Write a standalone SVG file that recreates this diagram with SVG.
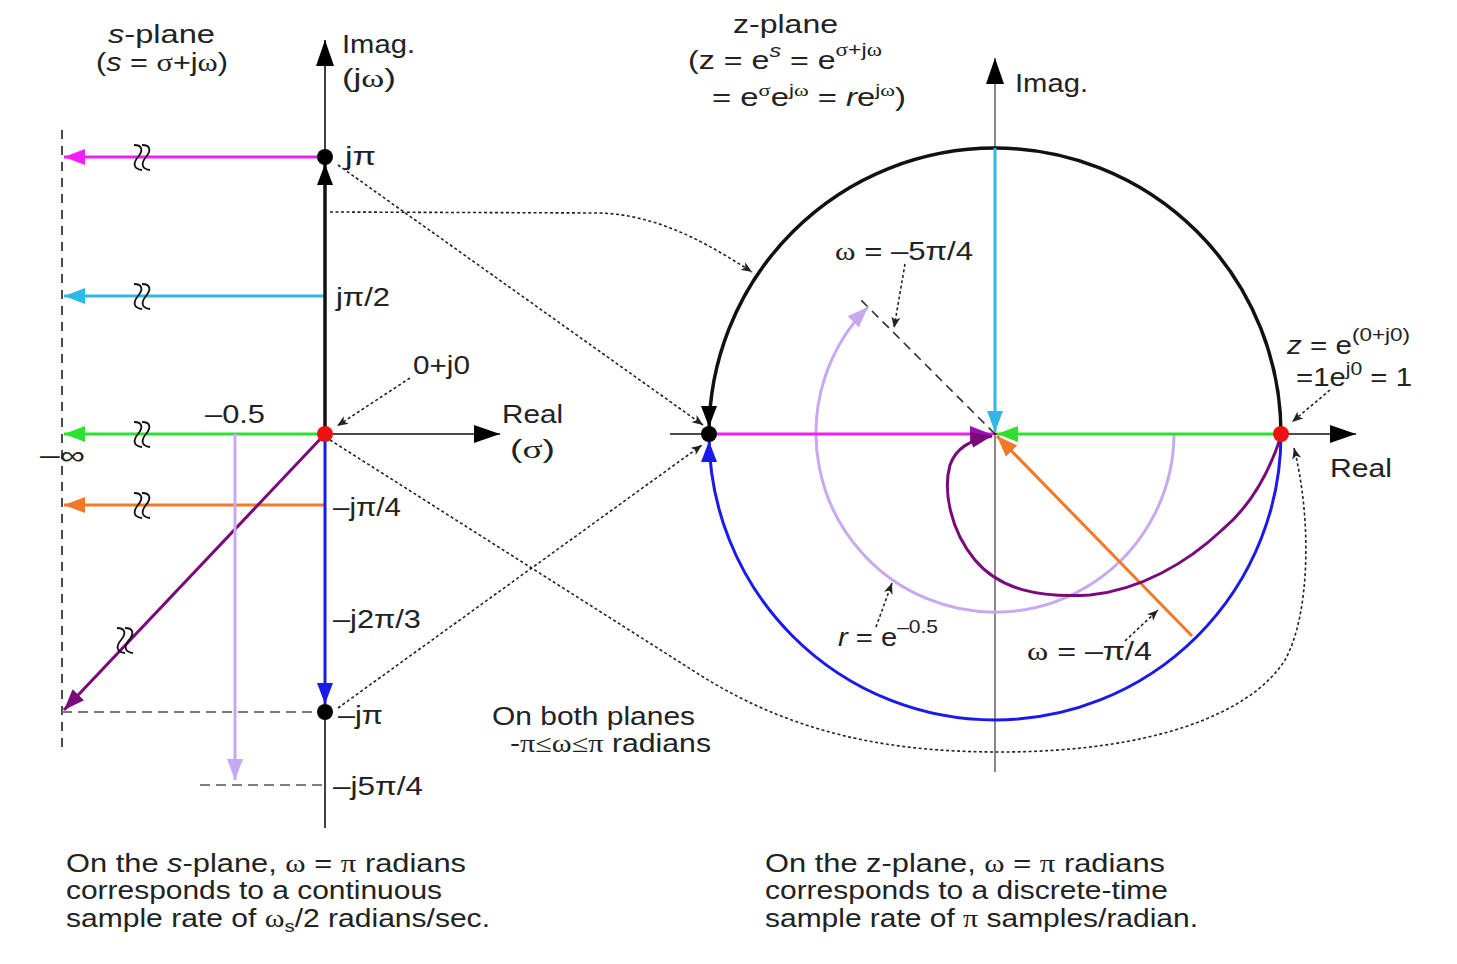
<svg xmlns="http://www.w3.org/2000/svg" width="1457" height="964" viewBox="0 0 1457 964">
<style>
text{font-family:"Liberation Sans",Arial,sans-serif;fill:#222;font-size:25px}
.gr{font-family:"Liberation Serif","Times New Roman",serif}
.it{font-style:italic}
.dot{fill:none;stroke:#222;stroke-width:1.6;stroke-dasharray:3 2.5}
.brk{fill:none;stroke:#111;stroke-width:1.8}
</style>
<defs>
<marker id="axb" markerUnits="userSpaceOnUse" markerWidth="30" markerHeight="20" refX="26" refY="9" orient="auto"><path d="M0,0 L26,9 L0,18 z" fill="#000"/></marker>
<marker id="ak" markerUnits="userSpaceOnUse" markerWidth="30" markerHeight="18" refX="28" refY="8" orient="auto"><path d="M0,0 L21,8 L0,16 z" fill="#000"/></marker>
<marker id="am" markerUnits="userSpaceOnUse" markerWidth="30" markerHeight="18" refX="21" refY="8" orient="auto"><path d="M0,0 L21,8 L0,16 z" fill="#f020f0"/></marker>
<marker id="amz" markerUnits="userSpaceOnUse" markerWidth="30" markerHeight="18" refX="23" refY="8" orient="auto"><path d="M0,0 L21,8 L0,16 z" fill="#9a10b0"/></marker>
<marker id="ac" markerUnits="userSpaceOnUse" markerWidth="30" markerHeight="18" refX="21" refY="8" orient="auto"><path d="M0,0 L21,8 L0,16 z" fill="#30b8e8"/></marker>
<marker id="ag" markerUnits="userSpaceOnUse" markerWidth="30" markerHeight="18" refX="21" refY="8" orient="auto"><path d="M0,0 L21,8 L0,16 z" fill="#30e030"/></marker>
<marker id="ao" markerUnits="userSpaceOnUse" markerWidth="30" markerHeight="18" refX="21" refY="8" orient="auto"><path d="M0,0 L21,8 L0,16 z" fill="#f07828"/></marker>
<marker id="ap" markerUnits="userSpaceOnUse" markerWidth="30" markerHeight="18" refX="21" refY="8" orient="auto"><path d="M0,0 L21,8 L0,16 z" fill="#7a0a7a"/></marker>
<marker id="al" markerUnits="userSpaceOnUse" markerWidth="30" markerHeight="18" refX="21" refY="8" orient="auto"><path d="M0,0 L21,8 L0,16 z" fill="#c8a8f0"/></marker>
<marker id="ab" markerUnits="userSpaceOnUse" markerWidth="30" markerHeight="18" refX="21" refY="8" orient="auto"><path d="M0,0 L21,8 L0,16 z" fill="#1a1aee"/></marker>
<marker id="abz" markerUnits="userSpaceOnUse" markerWidth="30" markerHeight="18" refX="28" refY="8" orient="auto"><path d="M0,0 L21,8 L0,16 z" fill="#1a1aee"/></marker>
<marker id="ad" markerUnits="userSpaceOnUse" markerWidth="14" markerHeight="10" refX="11" refY="4.5" orient="auto"><path d="M0,0 L11,4.5 L0,9 L3,4.5 z" fill="#222"/></marker>
</defs>
<rect width="1457" height="964" fill="#fff"/>

<g id="s-plane">
<line x1="62" y1="130" x2="62" y2="752" stroke="#111" stroke-width="1.5" stroke-dasharray="9 7"/>
<line x1="62" y1="712" x2="318" y2="712" stroke="#777" stroke-width="2" stroke-dasharray="10 6"/>
<line x1="200" y1="785" x2="322" y2="785" stroke="#555" stroke-width="1.6" stroke-dasharray="10 6"/>
<line x1="325" y1="828" x2="325" y2="40" stroke="#111" stroke-width="1.6" marker-end="url(#axb)"/>
<line x1="325" y1="434" x2="500" y2="434" stroke="#111" stroke-width="1.6" marker-end="url(#axb)"/>
<line x1="325" y1="157" x2="64" y2="157" stroke="#f020f0" stroke-width="3" marker-end="url(#am)"/>
<line x1="325" y1="296" x2="64" y2="296" stroke="#30b8e8" stroke-width="3" marker-end="url(#ac)"/>
<line x1="325" y1="434" x2="64" y2="434" stroke="#30e030" stroke-width="3" marker-end="url(#ag)"/>
<line x1="325" y1="505" x2="64" y2="505" stroke="#f07828" stroke-width="3" marker-end="url(#ao)"/>
<line x1="325" y1="434" x2="64" y2="710" stroke="#7a0a7a" stroke-width="3" marker-end="url(#ap)"/>
<line x1="235" y1="434" x2="235" y2="780" stroke="#c8a8f0" stroke-width="3" marker-end="url(#al)"/>
<line x1="325" y1="434" x2="325" y2="157" stroke="#111" stroke-width="3.5" marker-end="url(#ak)"/>
<line x1="325" y1="434" x2="325" y2="704" stroke="#1a1aee" stroke-width="3" marker-end="url(#ab)"/>
<path class="brk" d="M134,145 C143,145 143,151 138,157 C133,163 133,169 142,170 M142,145 C151,145 151,151 146,157 C141,163 141,169 150,170"/>
<path class="brk" d="M134,284 C143,284 143,290 138,296 C133,302 133,308 142,309 M142,284 C151,284 151,290 146,296 C141,302 141,308 150,309"/>
<path class="brk" d="M134,422 C143,422 143,428 138,434 C133,440 133,446 142,447 M142,422 C151,422 151,428 146,434 C141,440 141,446 150,447"/>
<path class="brk" d="M134,493 C143,493 143,499 138,505 C133,511 133,517 142,518 M142,493 C151,493 151,499 146,505 C141,511 141,517 150,518"/>
<path class="brk" d="M117,628 C126,628 126,634 121,640 C116,646 116,652 125,653 M125,628 C134,628 134,634 129,640 C124,646 124,652 133,653"/>
<circle cx="325" cy="157" r="8" fill="#000"/>
<circle cx="325" cy="712" r="8" fill="#000"/>
<circle cx="325" cy="434" r="8" fill="#ee1111"/>
<text x="108" y="43" font-size="27" textLength="107" lengthAdjust="spacingAndGlyphs"><tspan class="it">s</tspan>-plane</text>
<text x="96" y="71" font-size="23" textLength="132" lengthAdjust="spacingAndGlyphs">(<tspan class="it">s</tspan> = <tspan class="gr">σ</tspan>+j<tspan class="gr">ω</tspan>)</text>
<text x="342" y="53" textLength="73" lengthAdjust="spacingAndGlyphs">Imag.</text>
<text x="342" y="87" textLength="54" lengthAdjust="spacingAndGlyphs">(j<tspan class="gr">ω</tspan>)</text>
<text x="345" y="165" textLength="31" lengthAdjust="spacingAndGlyphs">jπ</text>
<text x="336" y="306" textLength="54" lengthAdjust="spacingAndGlyphs">jπ/2</text>
<text x="413" y="374" textLength="57" lengthAdjust="spacingAndGlyphs">0+j0</text>
<text x="205" y="423" textLength="60" lengthAdjust="spacingAndGlyphs">–0.5</text>
<text x="502" y="423" textLength="61" lengthAdjust="spacingAndGlyphs">Real</text>
<text x="510" y="458" textLength="45" lengthAdjust="spacingAndGlyphs">(<tspan class="gr">σ</tspan>)</text>
<text x="40" y="464" font-size="28" textLength="45" lengthAdjust="spacingAndGlyphs">–∞</text>
<text x="333" y="516" textLength="68" lengthAdjust="spacingAndGlyphs">–jπ/4</text>
<text x="333" y="628" textLength="88" lengthAdjust="spacingAndGlyphs">–j2π/3</text>
<text x="338" y="724" textLength="45" lengthAdjust="spacingAndGlyphs">–jπ</text>
<text x="333" y="795" textLength="90" lengthAdjust="spacingAndGlyphs">–j5π/4</text>
</g>

<g id="z-plane">
<line x1="995" y1="772" x2="995" y2="58" stroke="#888" stroke-width="2" marker-end="url(#axb)"/>
<line x1="670" y1="434" x2="1356" y2="434" stroke="#111" stroke-width="1.6" marker-end="url(#axb)"/>
<path d="M1281,434 A286,286 0 0 0 709,434" fill="none" stroke="#111" stroke-width="3.5" marker-end="url(#ak)"/>
<path d="M1281,434 A286,286 0 0 1 709,434" fill="none" stroke="#1a1aee" stroke-width="3" marker-end="url(#abz)"/>
<line x1="995" y1="148" x2="995" y2="432" stroke="#30b8e8" stroke-width="3" marker-end="url(#ac)"/>
<line x1="995" y1="434" x2="860" y2="299" stroke="#333" stroke-width="1.6" stroke-dasharray="9 6"/>
<path d="M1174,434 A179,179 0 1 1 868,307" fill="none" stroke="#c8a8f0" stroke-width="3" marker-end="url(#al)"/>
<line x1="709" y1="434" x2="993" y2="434" stroke="#f020f0" stroke-width="3" marker-end="url(#amz)"/>
<line x1="1281" y1="434" x2="997" y2="434" stroke="#30e030" stroke-width="3" marker-end="url(#ag)"/>
<line x1="1192" y1="636" x2="997" y2="436" stroke="#f07828" stroke-width="3" marker-end="url(#ao)"/>
<path d="M1281,436 C1270,470 1252,505 1222,530 C1187,563 1140,590 1090,595 C1040,598 1000,590 975,560 C950,530 943,490 950,465 C956,448 970,440 992,436" fill="none" stroke="#7a0a7a" stroke-width="3" marker-end="url(#ap)"/>
<circle cx="709" cy="434" r="8" fill="#000"/>
<circle cx="1281" cy="434" r="8" fill="#ee1111"/>
<text x="733" y="33" font-size="27" textLength="105" lengthAdjust="spacingAndGlyphs">z-plane</text>
<text x="688" y="69" font-size="24" textLength="194" lengthAdjust="spacingAndGlyphs">(z = e<tspan dy="-12" font-size="18" class="it">s</tspan><tspan dy="12"> = e</tspan><tspan dy="-13" font-size="18"><tspan class="gr">σ</tspan>+j<tspan class="gr">ω</tspan></tspan></text>
<text x="712" y="106" font-size="24" textLength="194" lengthAdjust="spacingAndGlyphs">= e<tspan dy="-10" font-size="17" class="gr">σ</tspan><tspan dy="10">e</tspan><tspan dy="-10" font-size="17">j<tspan class="gr">ω</tspan></tspan><tspan dy="10"> = </tspan><tspan class="it">r</tspan>e<tspan dy="-10" font-size="17">j<tspan class="gr">ω</tspan></tspan><tspan dy="10">)</tspan></text>
<text x="1015" y="92" textLength="73" lengthAdjust="spacingAndGlyphs">Imag.</text>
<text x="1330" y="477" textLength="62" lengthAdjust="spacingAndGlyphs">Real</text>
<text x="835" y="260" textLength="138" lengthAdjust="spacingAndGlyphs"><tspan class="gr">ω</tspan> = –5π/4</text>
<text x="1287" y="354" font-size="24" textLength="123" lengthAdjust="spacingAndGlyphs"><tspan class="it">z</tspan> = e<tspan dy="-13" font-size="19">(0+j0)</tspan></text>
<text x="1296" y="386" font-size="24" textLength="116" lengthAdjust="spacingAndGlyphs">=1e<tspan dy="-11" font-size="18">j0</tspan><tspan dy="11"> = 1</tspan></text>
<text x="838" y="646" textLength="100" lengthAdjust="spacingAndGlyphs"><tspan class="it">r</tspan> = e<tspan dy="-13" font-size="18">–0.5</tspan></text>
<text x="1027" y="660" textLength="125" lengthAdjust="spacingAndGlyphs"><tspan class="gr">ω</tspan> = –π/4</text>
</g>

<g id="connectors">
<line class="dot" x1="338" y1="165" x2="703" y2="425" marker-end="url(#ad)"/>
<path class="dot" d="M330,212 L600,213 C660,215 710,245 752,272" marker-end="url(#ad)"/>
<line class="dot" x1="338" y1="708" x2="702" y2="445" marker-end="url(#ad)"/>
<path class="dot" d="M330,440 L700,675 C800,738 900,752 1000,752 C1150,752 1250,715 1285,660 C1310,615 1312,520 1294,448" marker-end="url(#ad)"/>
<line class="dot" x1="410" y1="378" x2="337" y2="426" marker-end="url(#ad)"/>
<line class="dot" x1="905" y1="264" x2="894" y2="328" marker-end="url(#ad)"/>
<line class="dot" x1="1330" y1="390" x2="1292" y2="422" marker-end="url(#ad)"/>
<line class="dot" x1="876" y1="627" x2="892" y2="583" marker-end="url(#ad)"/>
<line class="dot" x1="1125" y1="641" x2="1158" y2="610" marker-end="url(#ad)"/>
</g>

<g id="notes">
<text x="492" y="725" textLength="203" lengthAdjust="spacingAndGlyphs">On both planes</text>
<text x="510" y="752" textLength="201" lengthAdjust="spacingAndGlyphs">-<tspan class="gr">π≤ω≤π</tspan> radians</text>
<text x="66" y="872" textLength="400" lengthAdjust="spacingAndGlyphs">On the <tspan class="it">s</tspan>-plane, <tspan class="gr">ω</tspan> =  <tspan class="gr">π</tspan> radians</text>
<text x="66" y="899" textLength="376" lengthAdjust="spacingAndGlyphs">corresponds to a continuous</text>
<text x="66" y="927" textLength="424" lengthAdjust="spacingAndGlyphs">sample rate of <tspan class="gr">ω</tspan><tspan dy="5" font-size="17">s</tspan><tspan dy="-5">/2 radians/sec.</tspan></text>
<text x="765" y="872" textLength="400" lengthAdjust="spacingAndGlyphs">On the z-plane, <tspan class="gr">ω</tspan> =  <tspan class="gr">π</tspan> radians</text>
<text x="765" y="899" textLength="403" lengthAdjust="spacingAndGlyphs">corresponds to a discrete-time</text>
<text x="765" y="927" textLength="433" lengthAdjust="spacingAndGlyphs">sample rate of <tspan class="gr">π</tspan> samples/radian.</text>
</g>
</svg>
